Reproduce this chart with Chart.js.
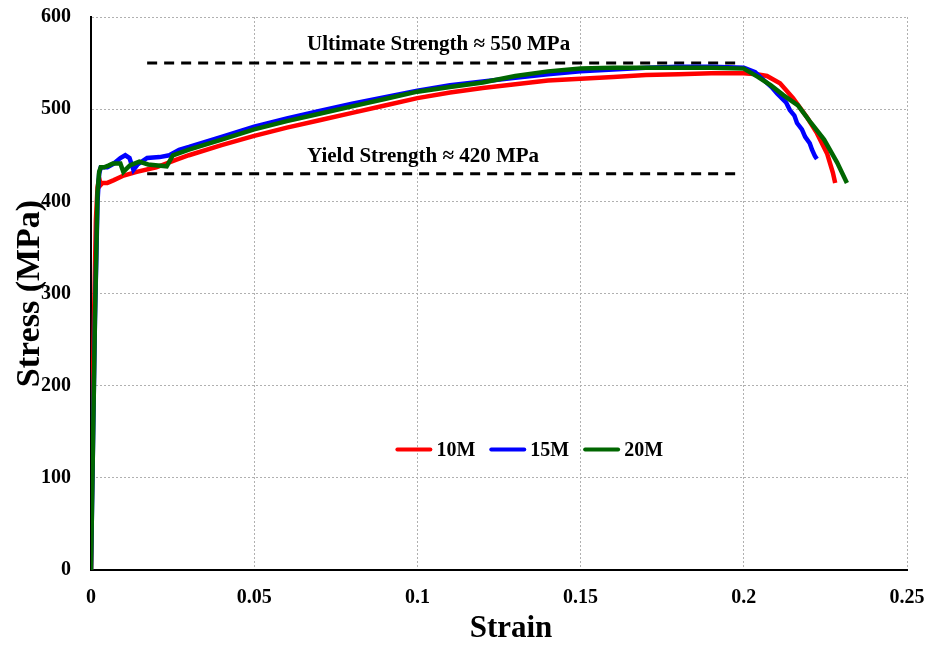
<!DOCTYPE html>
<html>
<head>
<meta charset="utf-8">
<script src="https://cdn.jsdelivr.net/npm/chart.js@4.4.1/dist/chart.umd.min.js"></script>
<style>
  html, body { margin: 0; padding: 0; background: #fff; }
  #wrap { width: 930px; height: 645px; }
</style>
</head>
<body>
<div id="wrap"><canvas id="stressChart" width="930" height="645"></canvas></div>
<script>
// tensile test curves for the three bar sizes
const strain10M = [0, 0.0008, 0.0015, 0.002, 0.0025, 0.003, 0.0035, 0.005, 0.007, 0.01, 0.014, 0.02, 0.026, 0.03, 0.04, 0.05, 0.06, 0.07, 0.08, 0.09, 0.1, 0.11, 0.12, 0.13, 0.14, 0.15, 0.16, 0.17, 0.18, 0.19, 0.2, 0.204, 0.2071, 0.2111, 0.2151, 0.2194, 0.2224, 0.2255, 0.2273, 0.228];
const stress10M = [0, 250, 380, 415, 425, 418, 420, 420, 423, 428, 432, 437, 445, 450, 461, 471, 480, 488, 496, 504, 512, 518, 523, 527, 531, 533, 535, 537, 538, 539, 539, 538, 536, 528, 512, 491, 474, 452, 431, 420];

const strain15M = [0, 0.0012, 0.002, 0.0025, 0.003, 0.005, 0.007, 0.009, 0.0105, 0.0118, 0.013, 0.0143, 0.0172, 0.021, 0.024, 0.027, 0.03, 0.04, 0.05, 0.06, 0.07, 0.08, 0.09, 0.1, 0.11, 0.12, 0.13, 0.14, 0.15, 0.16, 0.17, 0.18, 0.19, 0.2, 0.2035, 0.205, 0.2085, 0.2102, 0.213, 0.2141, 0.2155, 0.2163, 0.2178, 0.2188, 0.2202, 0.2209, 0.2218, 0.2224];
const stress15M = [0, 270, 400, 430, 437, 437, 441, 447, 450, 447, 434, 440, 447, 448, 450, 456, 459, 470, 481, 490, 498, 506, 513, 520, 526, 530, 534, 538, 541, 543, 545, 546, 546, 545, 540, 535, 524, 517, 507, 499, 493, 485, 478, 470, 463, 456, 449, 446];

const strain20M = [0, 0.0012, 0.002, 0.0025, 0.003, 0.004, 0.0055, 0.0067, 0.009, 0.0099, 0.0119, 0.0148, 0.0175, 0.0205, 0.0232, 0.0251, 0.03, 0.04, 0.05, 0.06, 0.07, 0.08, 0.09, 0.1, 0.11, 0.12, 0.13, 0.14, 0.15, 0.16, 0.17, 0.18, 0.19, 0.2, 0.2043, 0.2082, 0.2122, 0.2166, 0.2206, 0.2246, 0.2286, 0.2316];
const stress20M = [0, 270, 410, 432, 437, 437, 439, 441, 441, 432, 439, 443, 440, 439, 438, 450, 456, 467, 478, 487, 495, 503, 511, 519, 524, 529, 536, 541, 544, 545, 545, 545, 545, 544, 535, 526, 515, 504, 485, 467, 442, 420];

// reference strength levels
const ultimateLine = { strain: [0.0172, 0.199], stress: 550, label: 'Ultimate Strength \u2248 550 MPa', labelAt: [0.0662, 564] };
const yieldLine = { strain: [0.0172, 0.199], stress: 430, label: 'Yield Strength \u2248 420 MPa', labelAt: [0.0662, 443] };

const serif = "'Liberation Serif', 'Times New Roman', serif";

function toPoints(xs, ys) {
  return xs.map((x, i) => ({x: x, y: ys[i]}));
}

function levelLine(level) {
  return {
    label: '',
    data: level.strain.map(x => ({x: x, y: level.stress})),
    borderColor: '#000',
    borderWidth: 3,
    borderDash: [10, 7],
    showLine: true,
    pointRadius: 0,
    order: 4
  };
}

const curves = [
  {label: '10M', data: toPoints(strain10M, stress10M), borderColor: '#ff0000', order: 3},
  {label: '15M', data: toPoints(strain15M, stress15M), borderColor: '#0000ff', order: 2},
  {label: '20M', data: toPoints(strain20M, stress20M), borderColor: '#006600', order: 1}
].map(d => Object.assign(d, {
  backgroundColor: d.borderColor,
  borderWidth: 4.5,
  showLine: true,
  pointRadius: 0,
  tension: 0
}));

// strength labels, x-axis title and the in-plot legend
const overlay = {
  id: 'overlay',
  afterDatasetsDraw(chart) {
    const {ctx, chartArea, scales: {x, y}} = chart;
    ctx.save();
    ctx.fillStyle = '#000';
    ctx.font = 'bold 21px ' + serif;
    ctx.textAlign = 'left';
    ctx.textBaseline = 'alphabetic';
    [ultimateLine, yieldLine].forEach(l => {
      ctx.fillText(l.label, x.getPixelForValue(l.labelAt[0]), y.getPixelForValue(l.labelAt[1]));
    });

    // axis title sits a little right of centre
    ctx.font = 'bold 31px ' + serif;
    ctx.textAlign = 'center';
    ctx.textBaseline = 'middle';
    ctx.fillText('Strain', (chartArea.left + chartArea.right) / 2 + 12, chart.height - 16.5);

    ctx.font = 'bold 20px ' + serif;
    ctx.textAlign = 'left';
    const lineLen = 37, gap = 4, itemGap = 14;
    const widths = curves.map(c => lineLen + gap + ctx.measureText(c.label).width);
    const total = widths.reduce((a, b) => a + b, 0) + itemGap * (curves.length - 1);
    let cx = chartArea.left + chartArea.width * 0.537 - total / 2;
    const cy = chartArea.top + chartArea.height * 0.782;
    curves.forEach((c, i) => {
      ctx.strokeStyle = c.borderColor;
      ctx.lineWidth = 4;
      ctx.lineCap = 'round';
      ctx.beginPath();
      ctx.moveTo(cx + 2, cy);
      ctx.lineTo(cx + lineLen - 2, cy);
      ctx.stroke();
      ctx.fillText(c.label, cx + lineLen + gap, cy + 1);
      cx += widths[i] + itemGap;
    });
    ctx.restore();
  }
};

const ctx = document.getElementById('stressChart').getContext('2d');

new Chart(ctx, {
  type: 'scatter',
  data: {
    datasets: curves.concat([levelLine(ultimateLine), levelLine(yieldLine)])
  },
  options: {
    responsive: false,
    animation: false,
    layout: { padding: {top: 17, right: 23, left: 0, bottom: 0} },
    plugins: {
      legend: { display: false },
      tooltip: { enabled: false }
    },
    scales: {
      x: {
        type: 'linear',
        min: 0,
        max: 0.25,
        afterFit: s => { s.height = 75; s.paddingLeft = 0; s.paddingRight = 0; },
        ticks: {
          stepSize: 0.05,
          padding: 16,
          color: '#000',
          font: {family: serif, size: 20, weight: 'bold'},
          callback: v => String(Math.round(v * 100) / 100)
        },
        grid: { color: '#b0b0b0', lineWidth: 1, drawTicks: false },
        border: { display: true, color: '#000', width: 2, dash: [2, 2] }
      },
      y: {
        min: 0,
        max: 600,
        afterFit: s => { s.width = 91; s.paddingTop = 0; s.paddingBottom = 0; },
        ticks: {
          stepSize: 100,
          padding: 20,
          color: '#000',
          font: {family: serif, size: 20, weight: 'bold'}
        },
        grid: { color: '#b0b0b0', lineWidth: 1, drawTicks: false },
        border: { display: true, color: '#000', width: 2, dash: [2, 2] },
        title: {
          display: true,
          text: 'Stress (MPa)',
          color: '#000',
          font: {family: serif, size: 34, weight: 'bold', lineHeight: 1},
          padding: {top: 13, bottom: 0}
        }
      }
    }
  },
  plugins: [overlay]
});
</script>
</body>
</html>
